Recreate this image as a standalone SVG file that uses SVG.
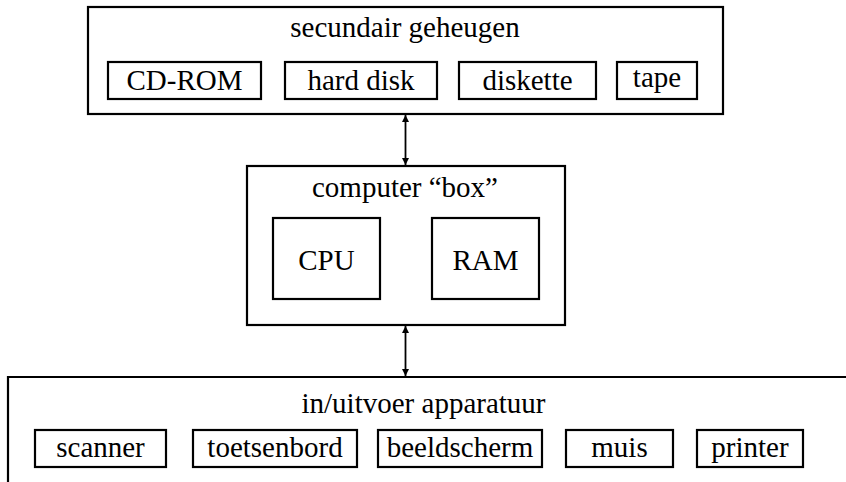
<svg xmlns="http://www.w3.org/2000/svg" width="846" height="482" viewBox="0 0 846 482">
<style>
.box{fill:none;stroke:#000;stroke-width:2.2}
.t{font-family:'Liberation Serif','Times New Roman','DejaVu Serif',serif;font-size:29px;fill:#000;text-anchor:middle}
.c{stroke:#000;stroke-width:1.8;fill:none}
</style>
<defs>
<marker id="ah" viewBox="0 0 10 10" refX="10" refY="5" markerWidth="10" markerHeight="7" markerUnits="userSpaceOnUse" orient="auto-start-reverse">
<path d="M0,0 L10,5 L0,10 z" fill="#000"/>
</marker>
</defs>
<rect width="846" height="482" fill="#fff"/>
<g id="secundair">
<rect class="box" x="88" y="7" width="635" height="107"/>
<text class="t" x="405" y="37">secundair geheugen</text>
</g>
<g id="cdrom"><rect class="box" x="108" y="62" width="153" height="37"/><text class="t" x="184.5" y="90">CD-ROM</text></g>
<g id="harddisk"><rect class="box" x="285" y="62" width="152" height="37"/><text class="t" x="361" y="90">hard disk</text></g>
<g id="diskette"><rect class="box" x="459" y="62" width="137" height="37"/><text class="t" x="527.5" y="90">diskette</text></g>
<g id="tape"><rect class="box" x="617" y="62" width="80" height="37"/><text class="t" x="657" y="87">tape</text></g>
<g id="computer">
<rect class="box" x="247" y="166" width="318" height="159"/>
<text class="t" x="405" y="197">computer “box”</text>
</g>
<g id="cpu"><rect class="box" x="273" y="218" width="107" height="81"/><text class="t" x="326.5" y="270">CPU</text></g>
<g id="ram"><rect class="box" x="432" y="218" width="107" height="81"/><text class="t" x="485.5" y="270">RAM</text></g>
<g id="io">
<path class="box" d="M846,377 H8 V482"/>
<text class="t" x="423.5" y="413">in/uitvoer apparatuur</text>
</g>
<g id="scanner"><rect class="box" x="35" y="430" width="131" height="37"/><text class="t" x="100.5" y="457">scanner</text></g>
<g id="toetsenbord"><rect class="box" x="193" y="430" width="164" height="37"/><text class="t" x="275" y="457">toetsenbord</text></g>
<g id="beeldscherm"><rect class="box" x="378" y="430" width="164" height="37"/><text class="t" x="460" y="457">beeldscherm</text></g>
<g id="muis"><rect class="box" x="566" y="430" width="107" height="37"/><text class="t" x="619.5" y="457">muis</text></g>
<g id="printer"><rect class="box" x="697" y="430" width="106" height="37"/><text class="t" x="750" y="457">printer</text></g>
<g id="connectors">
<line class="c" x1="405.5" y1="115" x2="405.5" y2="165" marker-start="url(#ah)" marker-end="url(#ah)"/>
<line class="c" x1="405.5" y1="326" x2="405.5" y2="376" marker-start="url(#ah)" marker-end="url(#ah)"/>
</g>
</svg>
